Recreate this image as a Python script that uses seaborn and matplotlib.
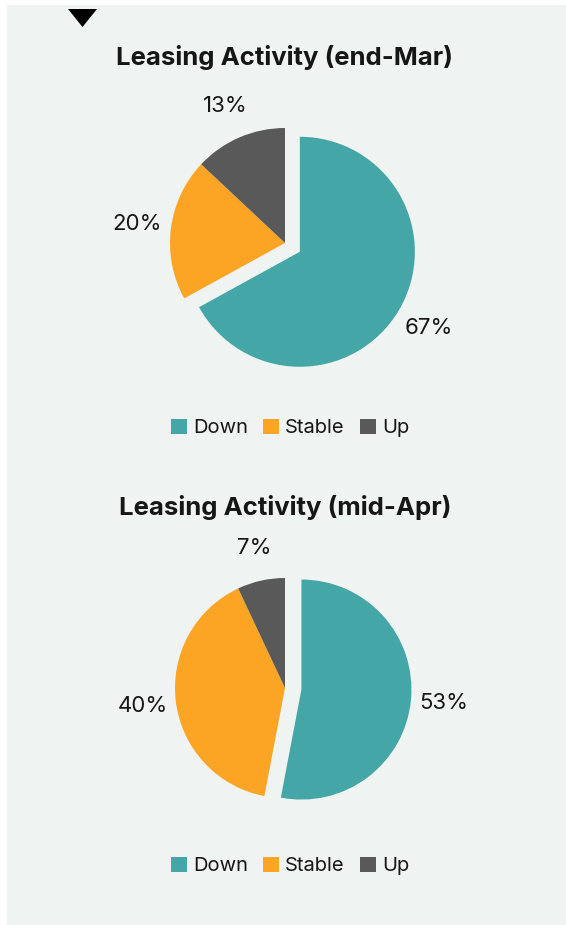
import matplotlib
matplotlib.use("Agg")
import matplotlib.pyplot as plt
import seaborn as sns
from matplotlib.patches import Rectangle, Polygon, Patch

categories = ["Down", "Stable", "Up"]
end_mar = [67, 20, 13]
mid_apr = [53, 40, 7]
titles = ["Leasing Activity (end-Mar)", "Leasing Activity (mid-Apr)"]
colors = ["#44a6a6", "#fca524", "#595959"]

sns.set_theme(style="white")
plt.rcParams["font.family"] = ["Inter", "DejaVu Sans"]
text_col = "#161616"

W, H = 566, 925
fig = plt.figure(figsize=(W / 100, H / 100), dpi=100)
fig.patch.set_facecolor("white")

# panel and little marker on top
fig.add_artist(Rectangle((7 / W, 0), 1, 1 - 5 / H, transform=fig.transFigure,
                         facecolor="#eff3f1", edgecolor="none", zorder=0))
fig.add_artist(Polygon([(68 / W, 1 - 9 / H), (97 / W, 1 - 9 / H), (82.5 / W, 1 - 27 / H)],
                       closed=True, transform=fig.transFigure, facecolor="black",
                       edgecolor="none"))


def pie_panel(vals, title, cx, cy, r, title_y, legend_y):
    lim = 1.6
    side = 2 * lim * r
    ax = fig.add_axes([(cx - side / 2) / W, (H - cy - side / 2) / H, side / W, side / H])
    ax.pie(vals, colors=colors, startangle=90, counterclock=False,
           explode=[0.15, 0, 0], autopct=lambda p: f"{p:.0f}%", pctdistance=1.3,
           wedgeprops=dict(linewidth=0),
           textprops=dict(fontsize=16, color=text_col))
    ax.set_xlim(-lim, lim)
    ax.set_ylim(-lim, lim)
    ax.set_aspect("equal")
    ax.axis("off")
    fig.text(cx / W, 1 - title_y / H, title, ha="center", va="center",
             fontsize=18.5, fontweight="bold", color=text_col)
    handles = [Patch(facecolor=c, edgecolor="none") for c in colors]
    fig.legend(handles, categories, loc="center", bbox_to_anchor=(290 / W, 1 - legend_y / H),
               ncol=3, frameon=False, fontsize=14.5, handlelength=0.8, handleheight=0.8,
               handletextpad=0.3, columnspacing=0.75, labelcolor=text_col)


pie_panel(end_mar, titles[0], 285, 243, 115, 57, 428)
pie_panel(mid_apr, titles[1], 285, 688, 110, 508, 866)

fig.savefig("out.png", dpi=100)
